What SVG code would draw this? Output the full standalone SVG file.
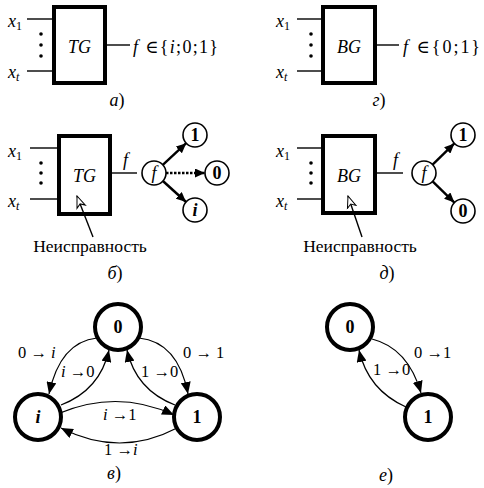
<svg xmlns="http://www.w3.org/2000/svg" width="484" height="488" viewBox="0 0 484 488" font-family="Liberation Serif, DejaVu Serif, serif">
<style>
text{font-family:'Liberation Serif','DejaVu Serif',serif;font-size:18px;fill:#000}
.it{font-style:italic}
.b{font-weight:bold}
.sub{font-size:12px}
.lb{font-size:16.5px}
.nt{font-size:17.5px}
.box{fill:#fff;stroke:#000;stroke-width:4}
.ln{stroke:#000;stroke-width:1.4;fill:none}
.sc{fill:#fff;stroke:#000;stroke-width:1.6}
.bc{fill:#fff;stroke:#000;stroke-width:4}
.ar{stroke:#000;stroke-width:2.4;fill:none}
.cv{stroke:#000;stroke-width:1.2;fill:none}
.mid{text-anchor:middle}
</style>
<defs>
<marker id="ah" markerUnits="userSpaceOnUse" markerWidth="12" markerHeight="10" viewBox="0 0 12 10" refX="12" refY="5" orient="auto"><path d="M0,0 L12,5 L0,10 Z" fill="#000"/></marker>
<marker id="ahs" markerUnits="userSpaceOnUse" markerWidth="10" markerHeight="9" viewBox="0 0 10 9" refX="10" refY="4.5" orient="auto"><path d="M0,0 L10,4.5 L0,9 Z" fill="#000"/></marker>
<marker id="ptr" markerUnits="userSpaceOnUse" markerWidth="14" markerHeight="12" viewBox="0 0 14 12" refX="12.5" refY="6" orient="auto"><path d="M1,1.5 L12.5,6 L1,10.5 L4,6 Z" fill="#fff" stroke="#000" stroke-width="1"/></marker>
</defs>

<!-- Panel a -->
<g id="panel-a">
<line class="ln" x1="27" y1="19" x2="54" y2="19"/>
<line class="ln" x1="27" y1="71" x2="54" y2="71"/>
<circle cx="41" cy="34" r="1.8"/><circle cx="41" cy="45" r="1.8"/><circle cx="41" cy="56" r="1.8"/>
<rect id="TG-a" class="box" x="54" y="7" width="51" height="76"/>
<text class="it mid" x="79.5" y="53">TG</text>
<line class="ln" x1="107" y1="45" x2="130" y2="45"/>
<text x="8" y="27"><tspan class="it">x</tspan><tspan class="sub" dy="3">1</tspan></text>
<text x="8" y="78"><tspan class="it">x</tspan><tspan class="sub it" dy="3">t</tspan></text>
<text x="133" y="53" textLength="85" lengthAdjust="spacing"><tspan class="it">f</tspan> ∈{<tspan class="it">i</tspan>;0;1}</text>
<text class="mid" x="117" y="106"><tspan class="it">а</tspan>)</text>
</g>

<!-- Panel g -->
<g id="panel-g">
<line class="ln" x1="297" y1="19" x2="323" y2="19"/>
<line class="ln" x1="297" y1="71" x2="323" y2="71"/>
<circle cx="311" cy="34" r="1.8"/><circle cx="311" cy="45" r="1.8"/><circle cx="311" cy="56" r="1.8"/>
<rect id="BG-g" class="box" x="323" y="7" width="52" height="76"/>
<text class="it mid" x="349" y="53">BG</text>
<line class="ln" x1="377" y1="45" x2="399" y2="45"/>
<text x="276" y="27"><tspan class="it">x</tspan><tspan class="sub" dy="3">1</tspan></text>
<text x="276" y="78"><tspan class="it">x</tspan><tspan class="sub it" dy="3">t</tspan></text>
<text x="403" y="53" textLength="77" lengthAdjust="spacing"><tspan class="it">f</tspan> ∈{0;1}</text>
<text class="mid" x="379" y="106"><tspan class="it">г</tspan>)</text>
</g>

<!-- Panel b -->
<g id="panel-b">
<line class="ln" x1="30" y1="148" x2="59" y2="148"/>
<line class="ln" x1="30" y1="199" x2="59" y2="199"/>
<circle cx="41" cy="163" r="1.8"/><circle cx="41" cy="173" r="1.8"/><circle cx="41" cy="183" r="1.8"/>
<rect id="TG-b" class="box" x="59" y="136" width="51" height="78"/>
<text class="it mid" x="84.5" y="182">TG</text>
<line class="ln" x1="111" y1="173" x2="137" y2="173"/>
<text class="it" x="123" y="166">f</text>
<text x="8" y="157"><tspan class="it">x</tspan><tspan class="sub" dy="3">1</tspan></text>
<text x="8" y="207"><tspan class="it">x</tspan><tspan class="sub it" dy="3">t</tspan></text>
<line class="ln" x1="93" y1="237" x2="77" y2="196" marker-end="url(#ptr)"/>
<text class="mid nt" x="90" y="252">Неисправность</text>
<text class="mid" x="115" y="279"><tspan class="it">б</tspan>)</text>
</g>
<g id="node-f-b"><circle class="sc" cx="154" cy="173" r="12"/><text class="it mid" x="154" y="179">f</text></g>
<g id="node-1-b"><circle class="sc" cx="195" cy="135" r="12"/><text class="b mid" x="195" y="141">1</text></g>
<g id="node-0-b"><circle class="sc" cx="217" cy="173" r="12"/><text class="b mid" x="217" y="179">0</text></g>
<g id="node-i-b"><circle class="sc" cx="195" cy="210" r="12"/><text class="b it mid" x="195" y="216">i</text></g>

<!-- Panel d -->
<g id="panel-d">
<line class="ln" x1="297" y1="148" x2="323" y2="148"/>
<line class="ln" x1="297" y1="199" x2="323" y2="199"/>
<circle cx="311" cy="163" r="1.8"/><circle cx="311" cy="173" r="1.8"/><circle cx="311" cy="183" r="1.8"/>
<rect id="BG-d" class="box" x="323" y="136" width="52" height="77"/>
<text class="it mid" x="349" y="182">BG</text>
<line class="ln" x1="377" y1="173" x2="403" y2="173"/>
<text class="it" x="393" y="166">f</text>
<text x="276" y="157"><tspan class="it">x</tspan><tspan class="sub" dy="3">1</tspan></text>
<text x="276" y="207"><tspan class="it">x</tspan><tspan class="sub it" dy="3">t</tspan></text>
<line class="ln" x1="362" y1="237" x2="348" y2="196" marker-end="url(#ptr)"/>
<text class="mid nt" x="360" y="252">Неисправность</text>
<text class="mid" x="387" y="279"><tspan class="it">д</tspan>)</text>
</g>
<g id="node-f-d"><circle class="sc" cx="424" cy="173" r="12"/><text class="it mid" x="424" y="179">f</text></g>
<g id="node-1-d"><circle class="sc" cx="463" cy="135" r="12"/><text class="b mid" x="463" y="141">1</text></g>
<g id="node-0-d"><circle class="sc" cx="463" cy="211" r="12"/><text class="b mid" x="463" y="217">0</text></g>

<!-- Panel v nodes -->
<g id="node-0-v"><circle class="bc" cx="118" cy="327" r="23"/><text class="b mid" x="118" y="333">0</text></g>
<g id="node-i-v"><circle class="bc" cx="38" cy="417" r="23"/><text class="b it mid" x="38" y="423">i</text></g>
<g id="node-1-v"><circle class="bc" cx="197" cy="417" r="23"/><text class="b mid" x="197" y="423">1</text></g>
<!-- Panel e nodes -->
<g id="node-0-e"><circle class="bc" cx="350" cy="327" r="23"/><text class="b mid" x="350" y="333">0</text></g>
<g id="node-1-e"><circle class="bc" cx="428" cy="417" r="23"/><text class="b mid" x="428" y="423">1</text></g>

<g id="connectors">
<line class="ar" x1="162.8" y1="164.8" x2="186.2" y2="143.2" marker-end="url(#ahs)"/>
<line class="ar" x1="166" y1="173" x2="205" y2="173" stroke-dasharray="2.5 1.5" marker-end="url(#ahs)"/>
<line class="ar" x1="162.9" y1="181" x2="186.1" y2="202" marker-end="url(#ahs)"/>
<line class="ar" x1="432.6" y1="164.6" x2="454.4" y2="143.4" marker-end="url(#ahs)"/>
<line class="ar" x1="432.6" y1="181.4" x2="454.4" y2="202.6" marker-end="url(#ahs)"/>
<path class="cv" d="M97,338 Q60,342 49,394" marker-end="url(#ah)"/>
<path class="cv" d="M61,405 Q100,390 109,350" marker-end="url(#ah)"/>
<path class="cv" d="M139,338 Q178,342 188,394" marker-end="url(#ah)"/>
<path class="cv" d="M175,405 Q136,390 127,350" marker-end="url(#ah)"/>
<path class="cv" d="M60,413 Q118,389 174,415" marker-end="url(#ah)"/>
<path class="cv" d="M177,428 Q120,458 61,428" marker-end="url(#ah)"/>
<path class="cv" d="M372,339 Q408,348 421,393" marker-end="url(#ah)"/>
<path class="cv" d="M406,407 Q368,390 359,350" marker-end="url(#ah)"/>
</g>

<g id="labels">
<text class="lb" x="18" y="358">0 → <tspan class="it">i</tspan></text>
<text class="lb" x="61" y="377"><tspan class="it">i</tspan> →0</text>
<text class="lb" x="183" y="358">0 → 1</text>
<text class="lb" x="141" y="377">1 →0</text>
<text class="lb" x="103" y="420"><tspan class="it">i</tspan> →1</text>
<text class="lb" x="104" y="455">1 →<tspan class="it">i</tspan></text>
<text class="mid" x="114" y="479"><tspan class="it">в</tspan>)</text>
<text class="lb" x="414" y="358">0 →1</text>
<text class="lb" x="373" y="375">1 →0</text>
<text class="mid" x="386" y="481"><tspan class="it">е</tspan>)</text>
</g>
</svg>
